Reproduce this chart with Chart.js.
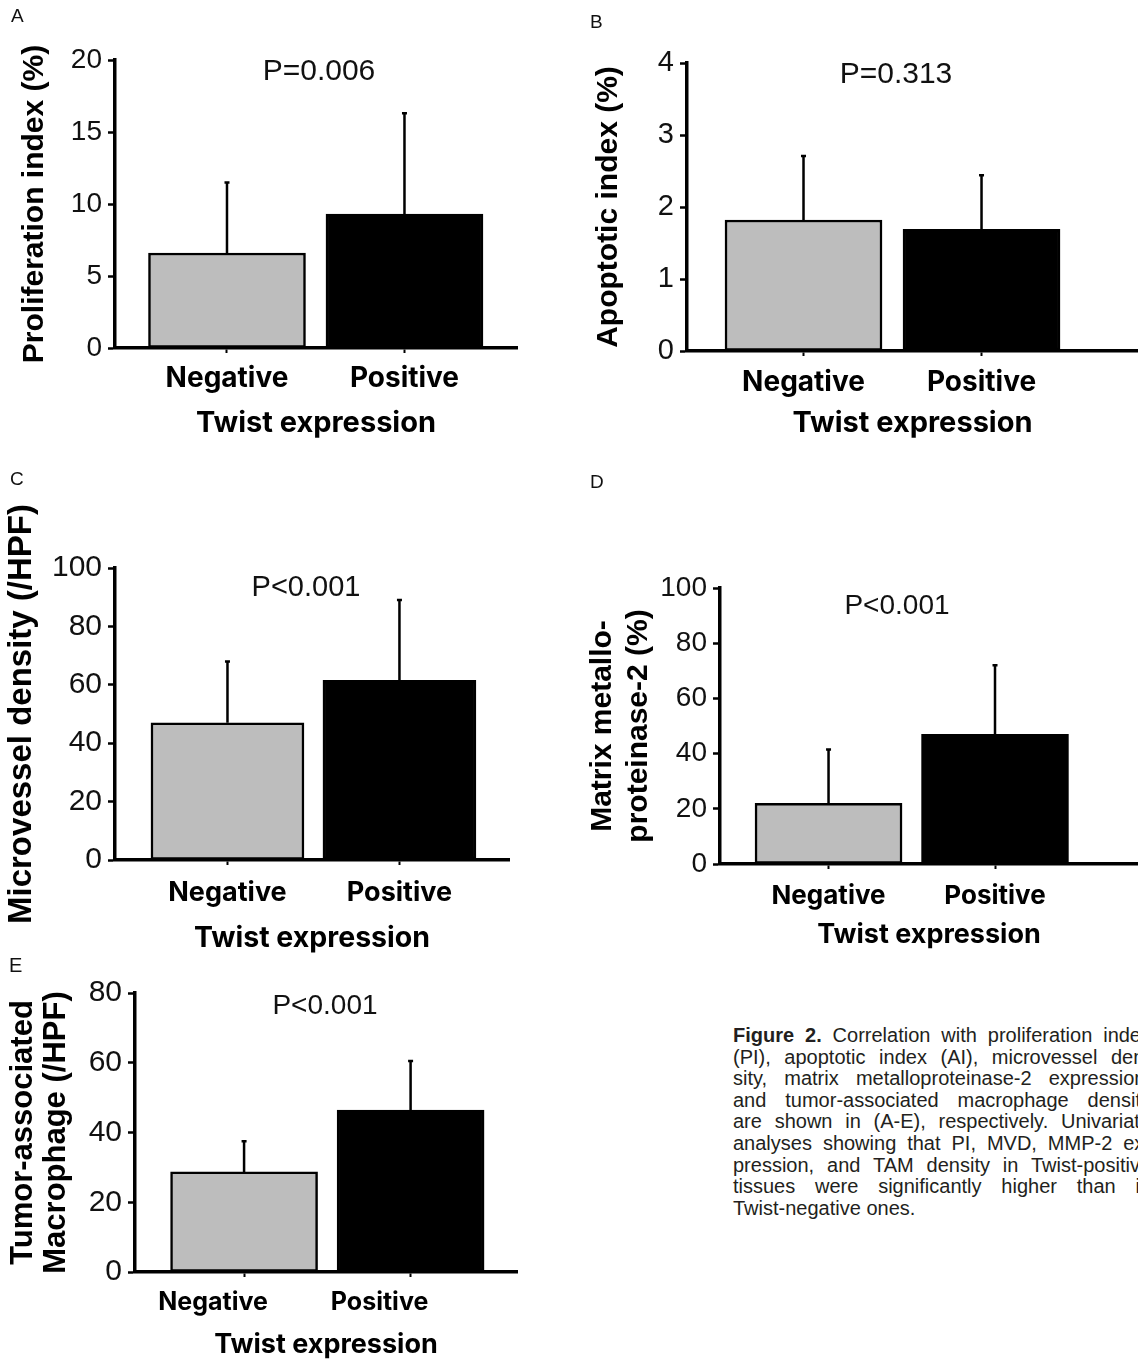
<!DOCTYPE html>
<html>
<head>
<meta charset="utf-8">
<script src="https://cdn.jsdelivr.net/npm/chart.js@4.4.1/dist/chart.umd.min.js"></script>
<style>
  html, body { margin:0; padding:0; background:#fff; }
  body { width:1138px; height:1360px; overflow:hidden; position:relative; }
  canvas.panel { position:absolute; }
  .letter { position:absolute; font-family:"Liberation Sans", Arial, sans-serif; font-size:19px; line-height:1; color:#111; }
  .pval { position:absolute; font-family:"Liberation Sans", Arial, sans-serif; line-height:1; color:#111; white-space:nowrap; transform:translateX(-50%); }
  #caption { position:absolute; left:733px; top:1025px; width:418px; font-family:"Liberation Sans", Arial, sans-serif; font-size:20px; line-height:21.6px; color:#231f20; }
  #caption .j { text-align:justify; text-align-last:justify; }
</style>
</head>
<body>
<canvas id="cA" class="panel" width="570" height="450" style="left:0px;top:0px;width:570px;height:450px"></canvas>
<canvas id="cB" class="panel" width="568" height="450" style="left:570px;top:0px;width:568px;height:450px"></canvas>
<canvas id="cC" class="panel" width="580" height="500" style="left:0px;top:460px;width:580px;height:500px"></canvas>
<canvas id="cD" class="panel" width="568" height="500" style="left:570px;top:460px;width:568px;height:500px"></canvas>
<canvas id="cE" class="panel" width="570" height="420" style="left:0px;top:945px;width:570px;height:420px"></canvas>

<div class="letter" style="left:11px;top:6px">A</div>
<div class="letter" style="left:590px;top:12px">B</div>
<div class="letter" style="left:10px;top:469px">C</div>
<div class="letter" style="left:590px;top:472px">D</div>
<div class="letter" style="left:9px;top:955px;font-size:20px">E</div>

<div class="pval" style="left:319px;top:55px;font-size:30px">P=0.006</div>
<div class="pval" style="left:896px;top:58px;font-size:30px">P=0.313</div>
<div class="pval" style="left:306px;top:572px;font-size:29px">P&lt;0.001</div>
<div class="pval" style="left:897px;top:591px;font-size:28px">P&lt;0.001</div>
<div class="pval" style="left:325px;top:991px;font-size:28px">P&lt;0.001</div>

<div id="caption">
  <div class="j"><b>Figure 2.</b> Correlation with proliferation index</div>
  <div class="j">(PI), apoptotic index (AI), microvessel den-</div>
  <div class="j">sity, matrix metalloproteinase-2 expression,</div>
  <div class="j">and tumor-associated macrophage density</div>
  <div class="j">are shown in (A-E), respectively. Univariate</div>
  <div class="j">analyses showing that PI, MVD, MMP-2 ex-</div>
  <div class="j">pression, and TAM density in Twist-positive</div>
  <div class="j">tissues were significantly higher than in</div>
  <div>Twist-negative ones.</div>
</div>

<script>
// ---------------- data ----------------
const categories = ['Negative', 'Positive'];
const xAxisTitle = 'Twist expression';

const proliferationMean = [6.6, 9.3];
const proliferationSD   = [4.9, 7.0];
const proliferationTicks = [0, 5, 10, 15, 20];

const apoptoticMean = [1.82, 1.69];
const apoptoticSD   = [0.89, 0.75];
const apoptoticTicks = [0, 1, 2, 3, 4];

const mvdMean = [47, 61.5];
const mvdSD   = [21, 27.5];
const mvdTicks = [0, 20, 40, 60, 80, 100];

const mmp2Mean = [22, 47];
const mmp2SD   = [19.5, 25];
const mmp2Ticks = [0, 20, 40, 60, 80, 100];

const tamMean = [28.7, 46.4];
const tamSD   = [8.8, 14.1];
const tamTicks = [0, 20, 40, 60, 80];

const barColors = ['#bdbdbd', '#000000'];

// ---------------- error bar plugin ----------------
const errorBars = {
  id: 'errorBars',
  afterDatasetsDraw(chart) {
    const ctx = chart.ctx;
    const yScale = chart.scales.y;
    const ds = chart.data.datasets[0];
    const meta = chart.getDatasetMeta(0);
    ctx.save();
    ctx.strokeStyle = '#000';
    ctx.lineWidth = 2.5;
    ctx.lineCap = 'butt';
    meta.data.forEach((bar, i) => {
      const top = yScale.getPixelForValue(ds.data[i].y + ds.errors[i]);
      ctx.beginPath();
      ctx.moveTo(bar.x, bar.y);
      ctx.lineTo(bar.x, top);
      ctx.moveTo(bar.x - 2.5, top);
      ctx.lineTo(bar.x + 2.5, top);
      ctx.stroke();
    });
    ctx.restore();
  }
};

Chart.defaults.font.family = '"Liberation Sans", Arial, sans-serif';
Chart.defaults.color = '#111';

function makePanel(p) {
  const data = categories.map((c, i) => ({ x: i + 1, y: p.mean[i] }));
  return new Chart(document.getElementById(p.id), {
    type: 'bar',
    data: {
      datasets: [{
        data: data,
        errors: p.sd,
        backgroundColor: barColors,
        borderColor: '#000',
        borderWidth: 2.5,
        borderSkipped: false,
        barThickness: p.barThickness
      }]
    },
    options: {
      responsive: false,
      animation: false,
      events: [],
      layout: { padding: { top: p.padTop, right: p.padRight, left: 0, bottom: 0 } },
      plugins: { legend: { display: false }, tooltip: { enabled: false }, title: { display: false } },
      scales: {
        x: {
          type: 'linear',
          min: p.xMin,
          max: p.xMax,
          offset: false,
          afterFit: (s) => { s.height = p.xH; },
          afterBuildTicks: (s) => { s.ticks = categories.map((c, i) => ({ value: i + 1 })); },
          grid: { display: true, drawOnChartArea: false, offset: false, tickLength: 5, tickWidth: 2, tickColor: '#000' },
          border: { display: true, color: '#000', width: 3.5 },
          ticks: {
            autoSkip: false,
            maxRotation: 0,
            padding: p.xTickPad,
            labelOffset: p.xLabelOffset || 0,
            color: '#000',
            font: { family: 'Inter', weight: 'bold', size: p.xTickSize },
            callback: (v) => categories[Math.round(v) - 1]
          },
          title: {
            display: true,
            text: xAxisTitle,
            color: '#000',
            padding: { top: 0, bottom: p.xTitlePad },
            font: { family: 'Inter', weight: 'bold', size: p.xTitleSize }
          }
        },
        y: {
          min: p.ticks[0],
          max: p.ticks[p.ticks.length - 1],
          afterFit: (s) => { s.width = p.yW; },
          grid: { display: true, drawOnChartArea: false, tickLength: 7, tickWidth: 2.5, tickColor: '#000' },
          border: { display: true, color: '#000', width: 3.5 },
          ticks: {
            stepSize: p.ticks[1] - p.ticks[0],
            padding: 6,
            color: '#111',
            font: { family: '"Liberation Sans", Arial, sans-serif', size: p.yTickSize }
          },
          title: {
            display: true,
            text: p.yTitle,
            color: '#000',
            padding: { top: p.yTitlePad, bottom: 0 },
            font: { family: '"Liberation Sans", Arial, sans-serif', weight: 'bold', size: p.yTitleSize, lineHeight: p.yTitleLH || 1.2 }
          }
        }
      }
    },
    plugins: [errorBars]
  });
}

makePanel({ id: 'cA', mean: proliferationMean, sd: proliferationSD, ticks: proliferationTicks,
  yTitle: 'Proliferation index (%)', yTitleSize: 30, yTitlePad: 17,
  yW: 115, padTop: 60, padRight: 53, xH: 102, xMin: 0.369, xMax: 2.634, barThickness: 157,
  yTickSize: 28, xTickSize: 28, xTickPad: 9, xTitleSize: 29, xTitlePad: 9 });

makePanel({ id: 'cB', mean: apoptoticMean, sd: apoptoticSD, ticks: apoptoticTicks,
  yTitle: 'Apoptotic index (%)', yTitleSize: 30, yTitlePad: 21,
  yW: 117, padTop: 63, padRight: 0, xH: 99, xMin: 0.3455, xMax: 2.879, barThickness: 157,
  yTickSize: 29, xTickSize: 28, xTickPad: 9.4, xTitleSize: 29, xTitlePad: 9 });

makePanel({ id: 'cC', mean: mvdMean, sd: mvdSD, ticks: mvdTicks,
  yTitle: 'Microvessel density (/HPF)', yTitleSize: 33, yTitlePad: 2,
  yW: 115, padTop: 108, padRight: 71, xH: 100, xMin: 0.346, xMax: 2.637, barThickness: 153,
  yTickSize: 30, xTickSize: 27, xTickPad: 12, xTitleSize: 28.5, xTitlePad: 4 });

makePanel({ id: 'cD', mean: mmp2Mean, sd: mmp2SD, ticks: mmp2Ticks,
  yTitle: ['Matrix metallo-', 'proteinase-2 (%)'], yTitleSize: 30, yTitleLH: 1.2, yTitlePad: 14.7,
  yW: 150, padTop: 128, padRight: 0, xH: 96, xMin: 0.348, xMax: 2.859, barThickness: 147,
  yTickSize: 28, xTickSize: 26, xTickPad: 11.4, xTitleSize: 27, xTitlePad: 9 });

makePanel({ id: 'cE', mean: tamMean, sd: tamSD, ticks: tamTicks,
  yTitle: ['Tumor-associated', 'Macrophage (/HPF)'], yTitleSize: 31, yTitleLH: 1.065, yTitlePad: 6.9,
  yW: 135, padTop: 48, padRight: 53, xH: 93, xMin: 0.345, xMax: 2.639, barThickness: 147,
  yTickSize: 30, xTickSize: 25, xTickPad: 10, xLabelOffset: -31, xTitleSize: 27, xTitlePad: 4 });
</script>
</body>
</html>
